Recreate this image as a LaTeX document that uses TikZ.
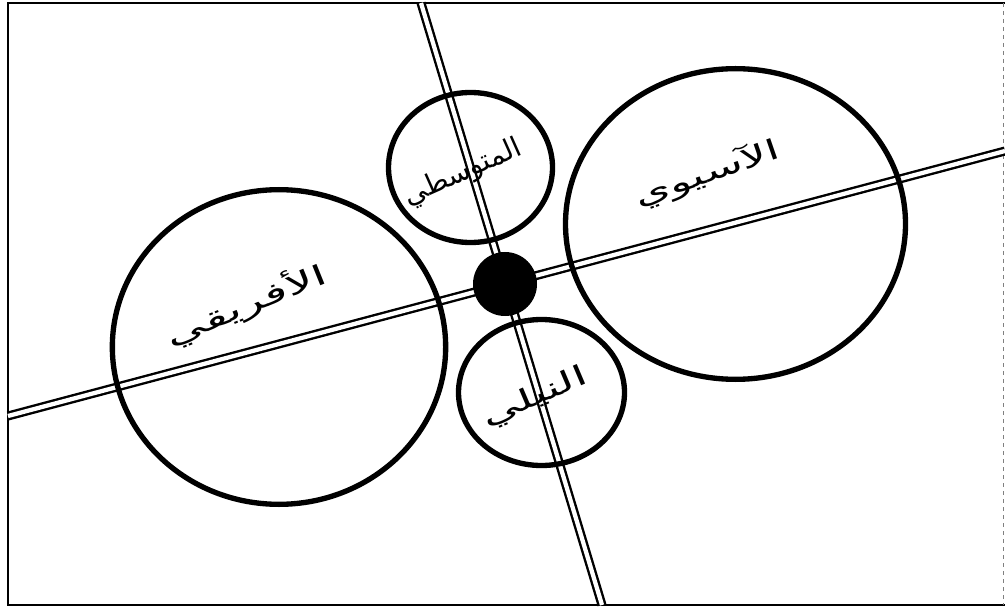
\documentclass[tikz,border=0pt]{standalone}
\usepackage{fontspec}
\usetikzlibrary{shapes.geometric}
\TeXXeTstate=1
\newfontfamily\arabicfont[Script=Arabic]{DejaVu Sans}
\begin{document}
\begin{tikzpicture}[x=0.75pt,y=-0.75pt,
  ring/.style={draw=black, line width=4pt, ellipse, inner sep=0pt, fill=none},
  axisline/.style={draw=black, line width=1.8pt, double=white, double distance=3.2pt},
  framel/.style={draw=black, line width=2.2pt},
  lbl/.style={font=\arabicfont\fontsize{21}{25}\selectfont, inner sep=0pt}]
\useasboundingbox (0,0) rectangle (1005,616);
% frame
\coordinate (tl) at (8,3);
\coordinate (tr) at (1005,3);
\coordinate (bl) at (8,605);
\coordinate (br) at (1005,605);
\draw[framel] (tr) -- (tl) -- (bl) -- (br);
\draw[gray, line width=0.6pt, dashed] (1003,3) -- (1003,605);
% axes
\coordinate (hl) at (8,416);
\coordinate (hr) at (1005,151);
\coordinate (vt) at (421,3);
\coordinate (vb) at (602,605);
\draw[axisline] (hl) -- (hr);
\draw[axisline] (vt) -- (vb);
% circles
\node[ring, minimum width=250pt, minimum height=236pt] (afr) at (279,347) {};
\node[ring, minimum width=255pt, minimum height=233pt] (asia) at (735.5,224) {};
\node[ring, minimum width=123pt, minimum height=112.5pt] (med) at (470.5,167.5) {};
\node[ring, minimum width=124.5pt, minimum height=109.5pt] (nile) at (541.5,392.5) {};
\node[circle, fill=black, minimum size=48pt, inner sep=0pt] (core) at (505,284) {};
% labels
\node[lbl, rotate=22, xscale=1.75] (lafr) at (246,305) {\beginR الأفريقي\endR};
\node[lbl, rotate=19, xscale=1.65] (lasia) at (707,174) {\beginR الآسيوي\endR};
\node[lbl, rotate=24, xscale=1.0] (lmed) at (463,173) {\beginR المتوسطي\endR};
\node[lbl, rotate=23, xscale=1.7] (lnile) at (535,398) {\beginR النيلي\endR};
\end{tikzpicture}
\end{document}
